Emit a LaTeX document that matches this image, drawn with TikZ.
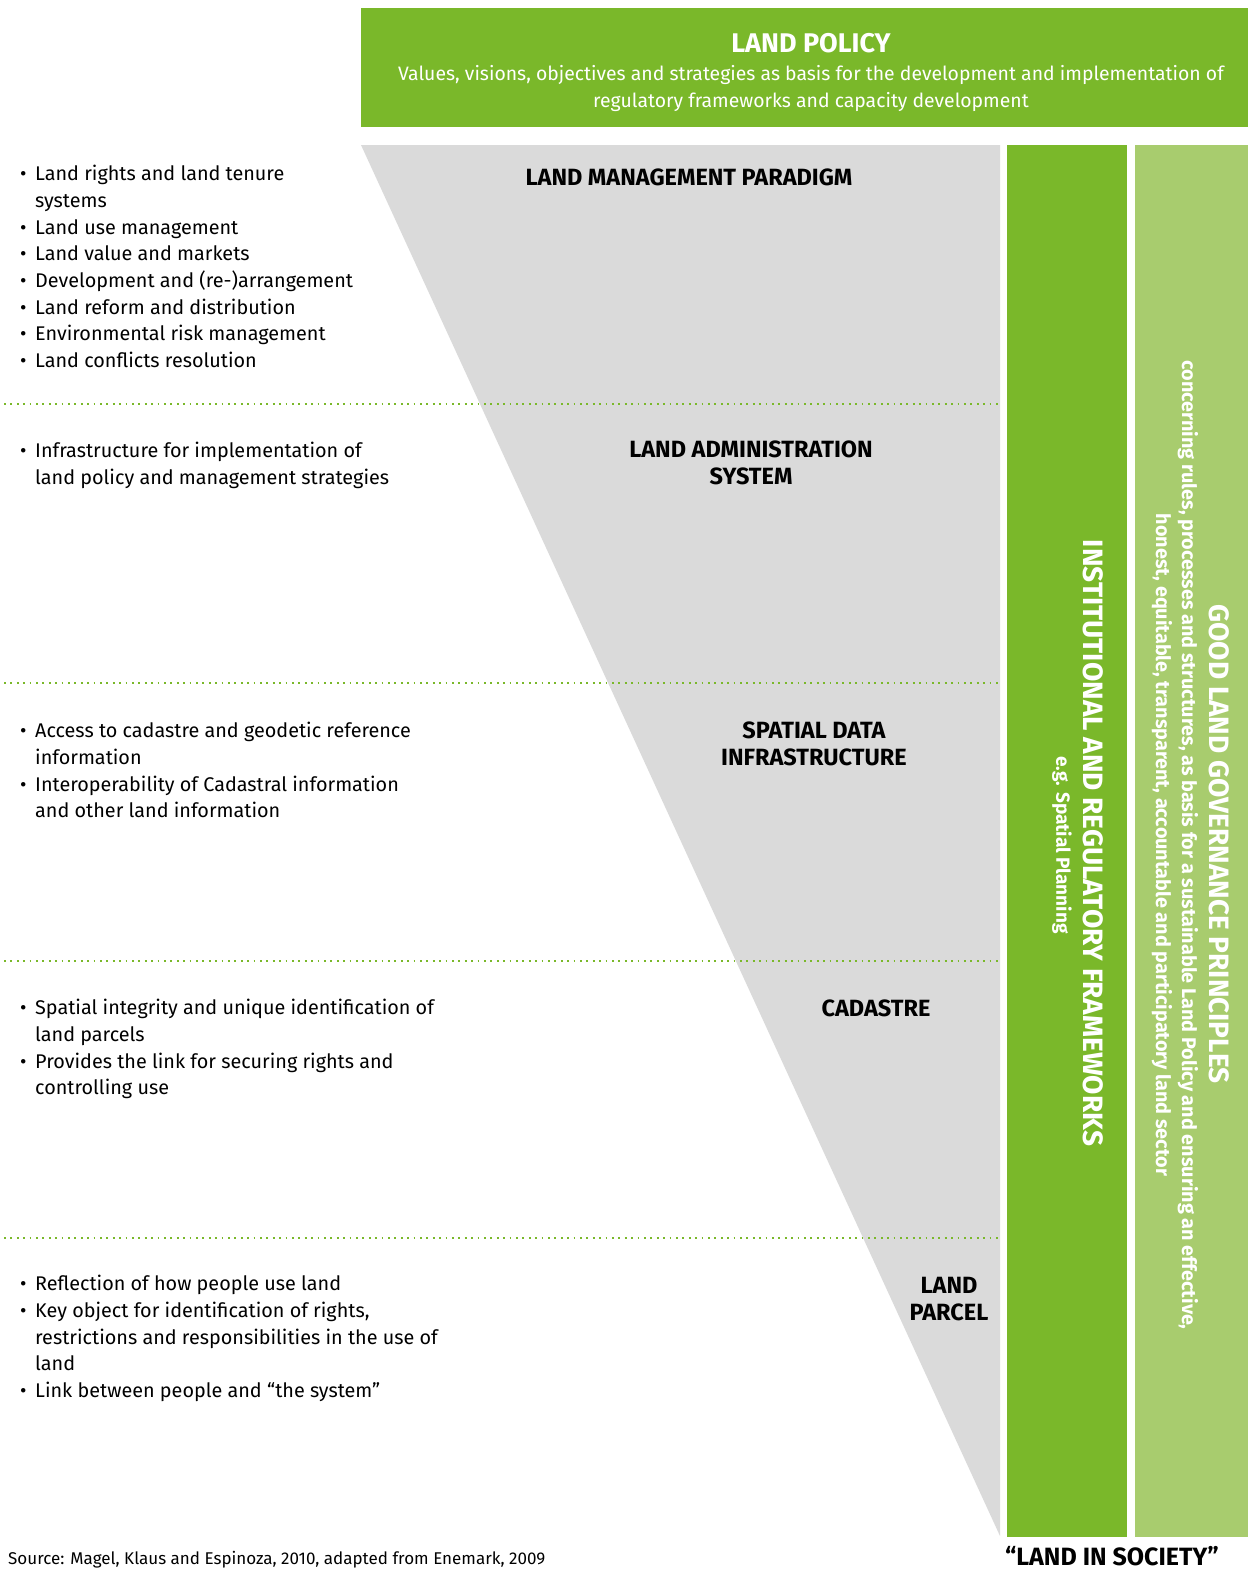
\documentclass[tikz,border=0pt]{standalone}
\usepackage{fontspec}
\setmainfont{Fira Sans}
\definecolor{policygreen}{HTML}{7AB82A}
\definecolor{principlegreen}{HTML}{A8CC6E}
\definecolor{wedgegrey}{HTML}{DADADA}
\tikzset{
  levellabel/.style={font=\fontsize{23.5}{26.5}\selectfont\bfseries, align=center, inner sep=0pt},
  itemlist/.style={font=\fontsize{19.8}{26.7}\selectfont, align=left, anchor=north west, inner sep=0pt},
  levelsep/.style={policygreen, line width=1.8pt, dash pattern=on 1.8pt off 4.6pt},
  vtitle/.style={white, rotate=-90, font=\fontsize{28}{30}\selectfont\bfseries, inner sep=0pt},
  vsub/.style={white, rotate=-90, font=\fontsize{19.8}{26}\selectfont\bfseries, align=center, inner sep=0pt},
}
\newcommand{\bl}{\makebox[15pt][l]{\textbullet}}
\newcommand{\ind}{\makebox[15pt]{}}
\begin{document}
\begin{tikzpicture}[x=1pt,y=-1pt]
  \useasboundingbox (0,0) rectangle (1248,1569);

  % land policy on top
  \fill[policygreen] (361,8) rectangle (1248,127);
  \node[white, font=\fontsize{27}{30}\selectfont\bfseries, inner sep=0pt] (policy) at (811,43) {LAND POLICY};
  \node[white, font=\fontsize{19.4}{27}\selectfont, align=center, inner sep=0pt] (policytext) at (811,88)
    {Values, visions, objectives and strategies as basis for the development and implementation of\\
     regulatory frameworks and capacity development};

  % the wedge and the two bars
  \fill[wedgegrey] (361,145) -- (1000,145) -- (1000,1536) -- cycle;
  \fill[policygreen] (1007,145) rectangle (1127,1537);
  \fill[principlegreen] (1135,145) rectangle (1248,1537);

  \foreach \y in {404,683,961,1238}
    \draw[levelsep] (4,\y) -- (1000,\y);

  \node[levellabel] (paradigm) at (689,177) {LAND MANAGEMENT PARADIGM};
  \node[levellabel] (las) at (751,463) {LAND ADMINISTRATION\\SYSTEM};
  \node[levellabel] (sdi) at (814,744) {SPATIAL DATA\\INFRASTRUCTURE};
  \node[levellabel] (cadastre) at (876,1008) {CADASTRE};
  \node[levellabel] (parcel) at (949,1299) {LAND\\PARCEL};

  \node[itemlist] (paradigmitems) at (20,165) {%
    \bl Land rights and land tenure\\
    \ind systems\\
    \bl Land use management\\
    \bl Land value and markets\\
    \bl Development and (re-)arrangement\\
    \bl Land reform and distribution\\
    \bl Environmental risk management\\
    \bl Land conflicts resolution};
  \node[itemlist] (lasitems) at (20,442) {%
    \bl Infrastructure for implementation of\\
    \ind land policy and management strategies};
  \node[itemlist] (sdiitems) at (20,722) {%
    \bl Access to cadastre and geodetic reference\\
    \ind information\\
    \bl Interoperability of Cadastral information\\
    \ind and other land information};
  \node[itemlist] (cadastreitems) at (20,999) {%
    \bl Spatial integrity and unique identification of\\
    \ind land parcels\\
    \bl Provides the link for securing rights and\\
    \ind controlling use};
  \node[itemlist] (parcelitems) at (20,1275) {%
    \bl Reflection of how people use land\\
    \bl Key object for identification of rights,\\
    \ind restrictions and responsibilities in the use of\\
    \ind land\\
    \bl Link between people and ``the system''};

  % vertical texts
  \node[vtitle] (frameworks) at (1093,843) {INSTITUTIONAL AND REGULATORY FRAMEWORKS};
  \node[vsub, font=\fontsize{19}{26}\selectfont\bfseries] (planning) at (1062,845) {e.g. Spatial Planning};
  \node[vtitle] (principles) at (1219,844) {GOOD LAND GOVERNANCE PRINCIPLES};
  \node[vsub] (principlestext) at (1175,845)
    {concerning rules, processes and structures, as basis for a sustainable Land Policy and ensuring an effective,\\
     honest, equitable, transparent, accountable and participatory land sector};

  \node[font=\fontsize{25}{28}\selectfont\bfseries, inner sep=0pt] (society) at (1112,1556) {``LAND IN SOCIETY''};
  \node[font=\fontsize{17}{20}\selectfont, anchor=base west, inner sep=0pt] (source) at (8,1564)
    {Source: Magel, Klaus and Espinoza, 2010, adapted from Enemark, 2009};
\end{tikzpicture}
\end{document}
